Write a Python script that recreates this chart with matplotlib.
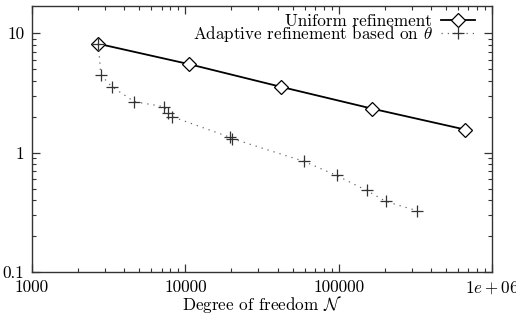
import numpy as np
import matplotlib.pyplot as plt
from matplotlib.ticker import FixedLocator, FixedFormatter, LogLocator, NullFormatter

plt.rcParams['font.family'] = 'serif'
plt.rcParams['font.serif'] = ['cmr10', 'DejaVu Serif']
plt.rcParams['mathtext.fontset'] = 'cm'
plt.rcParams['axes.unicode_minus'] = False
plt.rcParams['axes.formatter.use_mathtext'] = True

# uniform refinement
dof_uniform = [2710, 10600, 41800, 166000, 666000]
err_uniform = [8.15, 5.5, 3.56, 2.33, 1.56]

# adaptive refinement
dof_adaptive = [2710, 2810, 3320, 4650, 7290, 7710, 8180, 19700, 20200,
                59300, 97000, 152000, 203000, 322000]
err_adaptive = [8.15, 4.46, 3.56, 2.67, 2.42, 2.13, 2.0, 1.34, 1.31,
                0.845, 0.643, 0.482, 0.390, 0.327]

xticks = [1000, 10000, 100000, 1000000]
xticklabels = ['1000', '10000', '100000', r'$1e+06$']
yticks = [0.1, 1, 10]
yticklabels = ['0.1', '1', '10']

fig = plt.figure(figsize=(5.16, 3.18), dpi=100)
ax = fig.add_axes([0.062, 0.1447, 0.8915, 0.8375])

ax.plot(dof_uniform, err_uniform, color='black', lw=1.3, marker='D', ms=7,
        mfc='white', mec='black', mew=0.9, label='Uniform refinement')
ax.plot(dof_adaptive, err_adaptive, color='#666666', lw=0.9, ls=(0, (1, 4)),
        marker='+', ms=8, mec='#333333', mew=0.9,
        label=r'Adaptive refinement based on $\theta$')

ax.set_xscale('log')
ax.set_yscale('log')
ax.set_xlim(1000, 1e6)
ax.set_ylim(0.1, 17)

ax.xaxis.set_major_locator(FixedLocator(xticks))
ax.xaxis.set_major_formatter(FixedFormatter(xticklabels))
ax.yaxis.set_major_locator(FixedLocator(yticks))
ax.yaxis.set_major_formatter(FixedFormatter(yticklabels))
ax.xaxis.set_minor_locator(LogLocator(base=10, subs=np.arange(2, 10), numticks=20))
ax.yaxis.set_minor_locator(LogLocator(base=10, subs=np.arange(2, 10), numticks=20))
ax.xaxis.set_minor_formatter(NullFormatter())
ax.yaxis.set_minor_formatter(NullFormatter())

ax.tick_params(which='both', direction='in', top=True, right=True,
               labelsize=12.3, color='#333333')
ax.tick_params(which='major', length=6, width=0.9, pad=5.5)
ax.tick_params(which='minor', length=3, width=0.8)
for s in ax.spines.values():
    s.set_linewidth(1.0)
    s.set_color('#333333')

ax.set_xlabel(r'Degree of freedom $\mathcal{N}$', fontsize=12.3, labelpad=-2)

ax.legend(loc='upper right', bbox_to_anchor=(0.978, 0.996), frameon=False,
          markerfirst=False, fontsize=12.3, handlelength=2.0,
          labelspacing=-0.3, borderaxespad=0, handletextpad=0.5)

fig.savefig('out.png', dpi=100)
